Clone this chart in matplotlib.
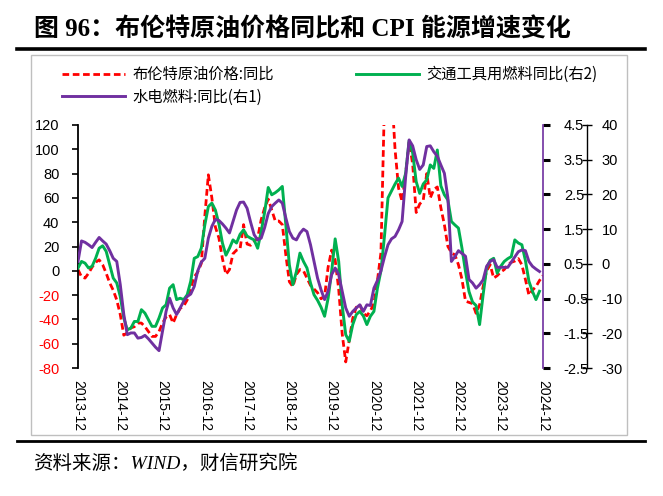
import matplotlib
matplotlib.use('Agg')
import matplotlib.pyplot as plt
import numpy as np
from matplotlib.patches import Rectangle
from matplotlib.lines import Line2D

plt.rcParams['font.family'] = ['Noto Sans CJK SC', 'DejaVu Sans']
plt.rcParams['axes.unicode_minus'] = False

# ---------------- data ----------------
x_labels = ['2013-12', '2014-12', '2015-12', '2016-12', '2017-12', '2018-12',
            '2019-12', '2020-12', '2021-12', '2022-12', '2023-12', '2024-12']

# 布伦特原油价格:同比 (left axis), monthly from 2013-12 to 2024-12
brent = [1, -5, -6, -2, 3, 7, 9, 5, -2, -10, -16, -24,
         -36, -53, -51, -47, -46, -43, -43, -46, -50, -54, -54, -50,
         -43, -38, -36, -43, -36, -31, -29, -24, -14, -5, -1, 6,
         45, 79, 60, 36, 27, 10, -3, 1, 14, 17, 18, 38,
         22, 21, 24, 27, 42, 52, 59, 50, 41, 41, 38, 13,
         -9, -13, -3, 1, 0, -6, -12, -15, -18, -23, -21, 3,
         17, 9, -15, -52, -75, -57, -39, -30, -28, -35, -37, -33,
         -27, -8, 15, 140, 180, 150, 100, 68, 57, 80, 106, 88,
         48, 55, 58, 80, 60, 67, 69, 52, 38, 20, 15, 13,
         5, -7, -25, -26, -27, -35, -28, -13, 0, 5, -6, -4,
         -1, 1, 5, 7, 8, 10, 5, -7, -20, -16, -13, -8, -4]

# 交通工具用燃料同比 (right axis 2)
transport = [-1.2, 0.7, 0.2, -1.2, -0.7, 1.6, 4.5, 5.2, 3.6, -0.3, -4.1, -5.5,
             -9.4, -15.6, -19, -18.5, -16.6, -16.6, -13.2, -14.2, -16.1, -18, -18, -15.6,
             -12.7, -11.8, -7, -6, -10.3, -9.9, -10.3, -8.9, -5, 1.6, 2.1, 4.5,
             11.2, 16.5, 17.5, 15.5, 11.5, 6, 2.5, 4.5, 6.9, 6, 8.5, 9.8,
             8, 7.4, 6.9, 4.5, 9.3, 15, 22, 19.9, 20.5, 21.3, 22.3, 11.2,
             -0.3, -6, -2.2, 3.1, 0.7, -1.2, -5.5, -8.9, -10.5, -12.5, -15.1, -9.9,
             -2.2, 7.2, 0.7, -12, -20.4, -22.3, -17.5, -14.6, -13.7, -15, -17.5, -15.1,
             -13.7, -7, -2, 8, 19, 21, 23, 24.7, 22.3, 26, 35.5, 32,
             23.7, 20.3, 23, 24.2, 28.5, 27.5, 32.8, 22.5, 19.9, 18.4, 12.2, 11.2,
             10.3, 4.5, -2.2, -8, -11, -12, -17.5, -8.9, -1.2, 1, 1.6, -2.7,
             -0.7, 0.7, 1.5, 2.1, 6.9, 6.0, 5.5, 1, -5, -7.9, -10.3, -7.9]

# 水电燃料:同比 (right axis 1)
utility = [0.57, 1.16, 1.12, 1.05, 0.97, 1.12, 1.26, 1.16, 1.07, 0.88, 0.66, 0.57,
           -0.1, -0.96, -1.54, -1.49, -1.49, -1.64, -1.62, -1.56, -1.66, -1.78, -1.9, -2.0,
           -1.44, -0.87, -0.49, -0.77, -0.96, -0.77, -0.58, -0.44, -0.37, -0.15, 0.3, 0.55,
           0.66, 1.24, 1.58, 1.78, 1.75, 1.65, 1.53, 1.39, 1.72, 2.05, 2.27, 2.28,
           2.1, 1.7, 1.34, 1.19, 1.24, 1.55, 1.95, 2.15, 2.25, 2.34, 2.25, 1.82,
           1.43, 1.24, 1.19, 1.38, 1.5, 1.43, 1.05, 0.57, 0.09, -0.25, -0.53, -0.29,
           0.19, 0.38, 0.19, -0.29, -0.77, -1.01, -0.87, -0.77, -0.68, -0.87, -0.68, -0.7,
           -0.2, 0.02, 0.3, 0.7, 1.05, 1.22, 1.29, 1.48, 1.72, 3.0, 4.07, 3.9,
           3.5, 3.22, 3.35, 3.88, 3.9, 3.73, 3.6, 3.35, 3.11, 2.4, 0.57, 0.71,
           0.88, 0.8, 0.72, 0.05, -0.05, -0.2, -0.1, 0.04, 0.43, 0.57, 0.62, 0.4,
           0.4, 0.4, 0.4, 0.55, 0.7, 0.85, 0.9, 0.88, 0.57, 0.43, 0.35, 0.28]

left_ticks = [120, 100, 80, 60, 40, 20, 0, -20, -40, -60, -80]
right1_ticks = [4.5, 3.5, 2.5, 1.5, 0.5, -0.5, -1.5, -2.5]
right2_ticks = [40, 30, 20, 10, 0, -10, -20, -30]

RED = '#FF0000'
GREEN = '#00B050'
PURPLE = '#7030A0'
TICKFONT = 'Liberation Sans'

W, H = 663, 496
fig = plt.figure(figsize=(W / 100, H / 100), dpi=100)

# frame around chart
fig.patches.append(Rectangle((31 / W, 1 - 435 / H), (627 - 31) / W, (435 - 55) / H,
                             transform=fig.transFigure, fill=False,
                             edgecolor='#BFBFBF', linewidth=1.0))
# title rule and footer rule
fig.lines.append(Line2D([17 / W, 645 / W], [1 - 49 / H, 1 - 49 / H],
                        transform=fig.transFigure, color='black', linewidth=2.6))
fig.lines.append(Line2D([17 / W, 645 / W], [1 - 441 / H, 1 - 441 / H],
                        transform=fig.transFigure, color='black', linewidth=2.0))

fig.text(34 / W, 1 - 29 / H, '图 96：布伦特原油价格同比和 CPI 能源增速变化',
         fontsize=18, fontweight='bold', family=['Liberation Serif', 'Noto Sans CJK SC'],
         ha='left', va='center')
fig.text(33 / W, 1 - 464 / H, '资料来源：WIND，财信研究院', fontsize=14, style='italic',
         family=['Liberation Serif', 'Noto Sans CJK SC'], ha='left', va='center')

ax = fig.add_axes([78 / W, 1 - 368 / H, (543 - 78) / W, (368 - 125) / H])
ax3 = ax.twinx()   # 交通工具用燃料 (右2)
ax2 = ax.twinx()   # 水电燃料 (右1)

m_b = np.arange(len(brent))
m_t = np.arange(len(transport))
m_u = np.arange(len(utility))

l1, = ax.plot(m_b, brent, color=RED, linewidth=2.0, dashes=(2.4, 1.3),
              label='布伦特原油价格:同比')
l3, = ax3.plot(m_t, transport, color=GREEN, linewidth=2.1, label='交通工具用燃料同比(右2)')
l2, = ax2.plot(m_u, utility, color=PURPLE, linewidth=2.1, label='水电燃料:同比(右1)')

ax.set_xlim(0, len(brent) - 1)
ax.set_ylim(-80, 120)
ax2.set_ylim(-2.5, 4.5)
ax3.set_ylim(-30, 40)

# x axis
ax.set_xticks(np.arange(len(x_labels)) * 12)
ax.set_xticklabels(x_labels, rotation=-90, fontsize=10, family=TICKFONT, va='top', ha='center')
ax.tick_params(axis='x', length=0, pad=9)

# left axis
ax.set_yticks(left_ticks)
ax.set_yticklabels([str(v) for v in left_ticks], fontsize=10.5, family=TICKFONT)
for lab, v in zip(ax.get_yticklabels(), left_ticks):
    lab.set_color(RED if v < 0 else 'black')
ax.tick_params(axis='y', direction='out', length=4.5, width=1.2, pad=9)

for a in (ax, ax2, ax3):
    a.spines['top'].set_visible(False)
    a.spines['bottom'].set_visible(False)
    a.patch.set_visible(False)
ax.spines['right'].set_visible(False)
ax.spines['left'].set_linewidth(1.3)
ax2.spines['left'].set_visible(False)
ax3.spines['left'].set_visible(False)

# right axis 1 (purple spine)
ax2.spines['right'].set_color(PURPLE)
ax2.spines['right'].set_linewidth(1.2)
ax2.set_yticks(right1_ticks)
ax2.set_yticklabels([f'{v:.1f}' for v in right1_ticks], fontsize=10.5, family=TICKFONT)
ax2.tick_params(axis='y', direction='out', length=5, width=2.2, color='black', pad=10)

# right axis 2 (offset)
ax3.spines['right'].set_position(('outward', 44 * 0.72))
ax3.spines['right'].set_linewidth(1.0)
ax3.set_yticks(right2_ticks)
ax3.set_yticklabels([str(v) for v in right2_ticks], fontsize=10.5, family=TICKFONT)
ax3.tick_params(axis='y', direction='inout', length=7, width=1.0, pad=7)

leg = fig.legend(handles=[l1, l2, l3], labels=[l1.get_label(), l2.get_label(), l3.get_label()],
                 ncol=2, loc='upper left', bbox_to_anchor=(62 / W, 1 - 66 / H),
                 frameon=False, fontsize=11, handlelength=4.1, handletextpad=0.5,
                 columnspacing=5.4, labelspacing=0.35, borderpad=0, borderaxespad=0)

fig.savefig('out.png', dpi=100)
